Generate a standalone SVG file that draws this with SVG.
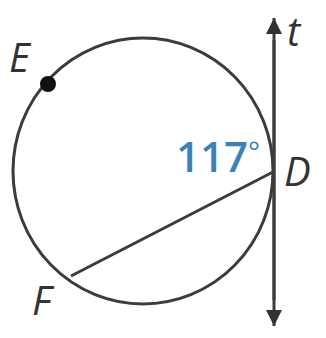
<svg xmlns="http://www.w3.org/2000/svg" width="326" height="338" viewBox="0 0 326 338">
<style>
.stroke{fill:none;stroke:#3c3c3c;stroke-width:3}
.lbl{font-family:"Open Sans","Liberation Sans",sans-serif;font-style:italic;font-size:40px;fill:#333}
.ang{font-family:"Open Sans","Liberation Sans",sans-serif;font-size:42px;font-weight:600;fill:#3b82b8}
</style>
<defs>
<marker id="arr" viewBox="0 0 16 22" refX="16" refY="11" markerWidth="16" markerHeight="22" markerUnits="userSpaceOnUse" orient="auto">
<path d="M0,3 L16,11 L0,19 Z" fill="#333"/>
</marker>
</defs>
<g id="circle">
<ellipse class="stroke" cx="143" cy="171" rx="130" ry="133"/>
</g>
<g id="connectors">
<line class="stroke" x1="274" y1="300" x2="274" y2="18" marker-end="url(#arr)"/>
<line class="stroke" x1="274" y1="40" x2="274" y2="326" marker-end="url(#arr)"/>
<line class="stroke" stroke-width="2.5" x1="273" y1="172" x2="71" y2="276"/>
</g>
<g id="E">
<circle cx="48" cy="84" r="8" fill="#111"/>
<text class="lbl" x="9" y="72">E</text>
</g>
<g id="D"><text class="lbl" x="284" y="186">D</text></g>
<g id="F"><text class="lbl" x="32" y="315">F</text></g>
<g id="t"><text class="lbl" x="287" y="46">t</text></g>
<g id="angle"><text class="ang" x="176" y="172">117<tspan font-size="28" font-weight="400" dy="-10">°</tspan></text></g>
</svg>
